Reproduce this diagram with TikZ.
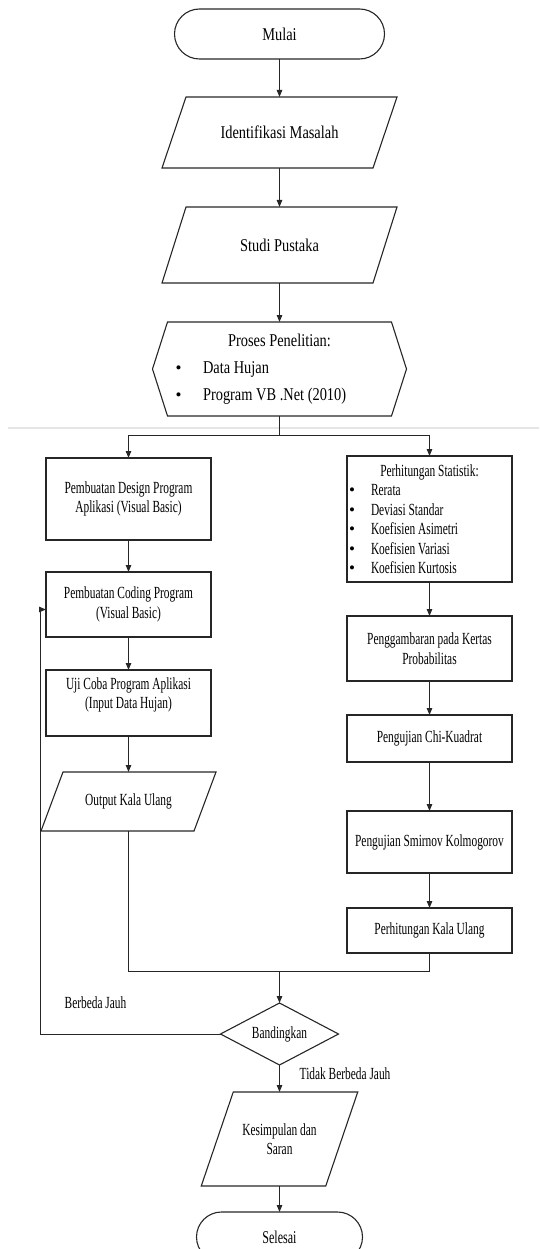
\documentclass[tikz,border=0pt]{standalone}
\usepackage{fontspec}
\setmainfont{Liberation Serif}
\newfontfamily\widefam{Liberation Serif}[FakeStretch=0.8]
\newfontfamily\narrowfam{Liberation Serif}[FakeStretch=0.67]
\usetikzlibrary{shapes.geometric, arrows.meta, positioning}

\newcommand{\dotmark}{{\normalfont\fontsize{17}{17}\selectfont\textbullet}}
\newcommand{\hexitem}[1]{\makebox[224pt][l]{\hspace{8pt}\makebox[27.5pt][l]{\dotmark}#1}}
\newcommand{\statitem}[1]{\makebox[165pt][l]{\hspace{2pt}\makebox[22pt][l]{\dotmark}#1}}

\begin{document}
\begin{tikzpicture}[
  x=1pt, y=1pt,
  node distance=38pt and 30pt,
  boxline/.style={draw=black!85, line width=1.1pt},
  term/.style={rectangle, boxline, rounded corners=25pt, minimum width=210pt, minimum height=50pt, inner sep=0pt, outer sep=0pt, font=\widefam\fontsize{18}{27}\selectfont},
  io/.style={rectangle, inner sep=0pt, outer sep=0pt, align=center, minimum width=211pt, font=\widefam\fontsize{18}{27}\selectfont},
  proc/.style={rectangle, boxline, minimum width=165pt, inner sep=0pt, outer sep=0pt, align=center, font=\narrowfam\fontsize{17}{19.5}\selectfont},
  decision/.style={diamond, boxline, aspect=1.9, minimum width=118pt, minimum height=62pt, inner sep=1pt, outer sep=0pt, font=\narrowfam\fontsize{17}{19.5}\selectfont},
  lbl/.style={inner sep=0pt, font=\narrowfam\fontsize{17}{19.5}\selectfont},
  arrow/.style={->, draw=black!85, line width=1pt, >={Triangle[length=7pt,width=5.5pt]}},
  conn/.style={draw=black!85, line width=1pt}
]
\useasboundingbox (0,0) rectangle (539,-1249);

% page break line
\draw[black!10, line width=2.5pt] (8,-428) -- (539,-428);

% Main column
\node[term] (mulai) at (279.5,-34) {Mulai};
\node[io, below=38pt of mulai, minimum height=71pt] (ident) {Identifikasi Masalah};
\node[io, below=39pt of ident, minimum height=76pt] (studi) {Studi Pustaka};
\node[io, below=39pt of studi, minimum width=224pt, minimum height=94pt] (proses)
  {Proses Penelitian:\\\hexitem{Data Hujan}\\\hexitem{Program VB .Net (2010)}};

% Left column
\node[proc, below=42pt of proses, xshift=-151pt, minimum height=82pt] (design) {Pembuatan Design Program\\Aplikasi (Visual Basic)};
\node[proc, below=32pt of design, minimum height=65pt] (coding) {Pembuatan Coding Program\\(Visual Basic)};
\node[proc, below=33pt of coding, minimum height=66pt] (uji) {Uji Coba Program Aplikasi\\(Input Data Hujan)\\~};
\node[io, below=36pt of uji, minimum width=153pt, minimum height=59pt, font=\narrowfam\fontsize{17}{19.5}\selectfont] (output) {Output Kala Ulang};

% Right column
\node[proc, below=40pt of proses, xshift=150pt, minimum height=126pt] (stat)
  {Perhitungan Statistik:\\\statitem{Rerata}\\\statitem{Deviasi Standar}\\\statitem{Koefisien Asimetri}\\\statitem{Koefisien Variasi}\\\statitem{Koefisien Kurtosis}};
\node[proc, below=34pt of stat, minimum height=65pt] (gambar) {Penggambaran pada Kertas\\Probabilitas};
\node[proc, below=34pt of gambar, minimum height=47pt] (chi) {Pengujian Chi-Kuadrat};
\node[proc, below=49pt of chi, minimum height=62pt] (smirnov) {Pengujian Smirnov Kolmogorov};
\node[proc, below=35pt of smirnov, minimum height=45pt] (kala) {Perhitungan Kala Ulang};

% Bottom part
\path (proses.south) ++(0,-19) coordinate (split);
\path (kala.south) ++(0,-18) coordinate (m0);
\coordinate (merge) at (m0 -| proses.south);
\node[decision, below=32pt of merge] (banding) {Bandingkan};
\node[io, below=27pt of banding, minimum width=124.5pt, minimum height=94pt, font=\narrowfam\fontsize{17}{19.5}\selectfont] (simpul) {Kesimpulan dan\\Saran};
\node[term, below=26pt of simpul, minimum width=166pt, font=\narrowfam\fontsize{18}{20}\selectfont] (selesai) {Selesai};

\node[lbl] (beda) at ([xshift=-184pt]banding.north) {Berbeda Jauh};
\node[lbl, anchor=west] (tidak) at ([xshift=20pt,yshift=-9pt]banding.south) {Tidak Berbeda Jauh};

% Outlines of the slanted boxes and the hexagon
\foreach \n/\s in {ident/12pt, studi/12pt, output/11pt, simpul/16pt}
  \draw[boxline] ([xshift=\s]\n.north west) -- ([xshift=\s]\n.north east) -- ([xshift=-\s]\n.south east) -- ([xshift=-\s]\n.south west) -- cycle;
\draw[boxline] (proses.north west) -- (proses.north east) -- ([xshift=15pt]proses.east) -- (proses.south east) -- (proses.south west) -- ([xshift=-15pt]proses.west) -- cycle;

% Arrows
\draw[arrow] (mulai) -- (ident);
\draw[arrow] (ident) -- (studi);
\draw[arrow] (studi) -- (proses);
\draw[conn] (proses.south) -- (split);
\draw[arrow] (split) -| (design.north);
\draw[arrow] (split) -| (stat.north);

\draw[arrow] (design) -- (coding);
\draw[arrow] (coding) -- (uji);
\draw[arrow] (uji) -- (output);

\draw[arrow] (stat) -- (gambar);
\draw[arrow] (gambar) -- (chi);
\draw[arrow] (chi) -- (smirnov);
\draw[arrow] (smirnov) -- (kala);

\draw[conn] (output.south) |- (merge);
\draw[conn] (kala.south) |- (merge);
\draw[arrow] (merge) -- (banding.north);

\draw[arrow] (banding.west) -- ++(-180pt,0) |- ([yshift=-5pt]coding.west);
\draw[arrow] (banding.south) -- (simpul.north);
\draw[arrow] (simpul.south) -- (selesai.north);

\end{tikzpicture}
\end{document}
